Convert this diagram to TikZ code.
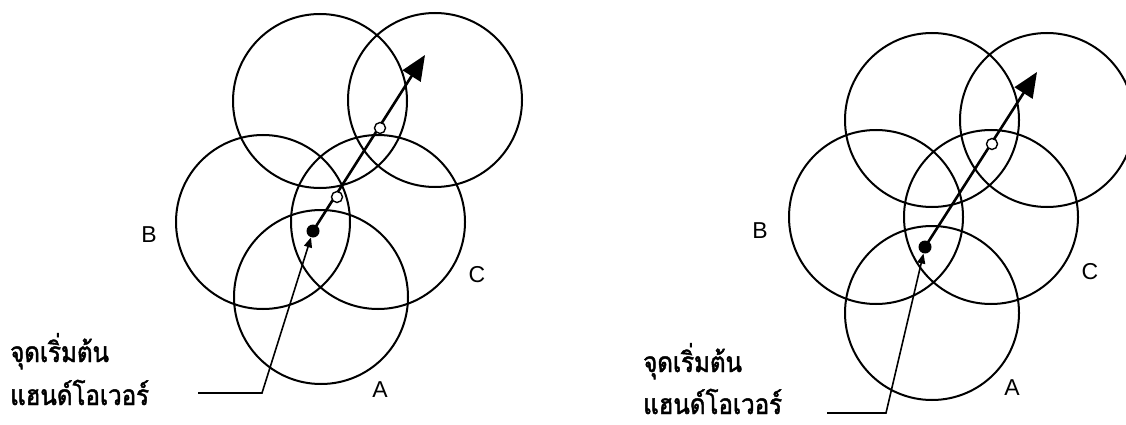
\documentclass[tikz,border=0pt]{standalone}
\usepackage{fontspec}
\setmainfont{Liberation Sans}
\newfontfamily\thaifont[Script=Thai,FakeStretch=0.86,FakeBold=1.6]{Loma}
\usetikzlibrary{arrows.meta}
\begin{document}
\begin{tikzpicture}[x=1pt,y=-1pt,
  cell/.style={circle,draw,line width=2pt,minimum size=174pt,inner sep=0pt},
  fdot/.style={circle,fill=black,minimum size=13pt,inner sep=0pt},
  odot/.style={circle,draw,fill=white,line width=1.4pt,minimum size=11pt,inner sep=0pt},
  mainarrow/.style={line width=2.6pt,-{Triangle[length=25pt,width=21pt]}},
  leader/.style={line width=1.6pt,-{Triangle[length=10pt,width=8pt]}},
  letter/.style={font=\fontsize{23}{26}\selectfont},
  thai/.style={font=\thaifont\fontsize{28}{30}\selectfont,anchor=base west,inner sep=0pt}]
\useasboundingbox (0,0) rectangle (1126,425);
% ---------- left diagram ----------
\node[cell] (lTL) at (320,101) {};
\node[cell] (lTR) at (435,100) {};
\node[cell] (lB) at (263,222) {};
\node[cell] (lM) at (378,222) {};
\node[cell] (lA) at (321,297) {};
\node[fdot] (lstart) at (313,231) {};
\coordinate (ltip) at (425,55);
\draw[mainarrow] (lstart.center) -- (ltip);
\node[odot] (lo1) at (337,197) {};
\node[odot] (lo2) at (380,128) {};
\coordinate (lleadA) at (198,393);
\coordinate (lleadB) at (262,393);
\draw[leader] (lleadA) -- (lleadB) -- (lstart);
\node[letter] (lbB) at (149,235) {B};
\node[letter] (lbC) at (477,275) {C};
\node[letter] (lbA) at (380,390) {A};
\node[thai] (lt1) at (10,362) {จุดเริ่มต้น};
\node[thai] (lt2) at (10,405) {แฮนด์โอเวอร์};
% ---------- right diagram ----------
\node[cell] (rTL) at (932,120) {};
\node[cell] (rTR) at (1047,120) {};
\node[cell] (rB) at (876,217) {};
\node[cell] (rM) at (991,217) {};
\node[cell] (rA) at (932,313) {};
\node[fdot] (rstart) at (925,247) {};
\coordinate (rtip) at (1037,72);
\draw[mainarrow] (rstart.center) -- (rtip);
\node[odot] (ro1) at (992,144) {};
\coordinate (rleadA) at (827,413);
\coordinate (rleadB) at (886,413);
\draw[leader] (rleadA) -- (rleadB) -- (rstart);
\node[letter] (rbB) at (760,231) {B};
\node[letter] (rbC) at (1090,272) {C};
\node[letter] (rbA) at (1012,388) {A};
\node[thai] (rt1) at (643,372) {จุดเริ่มต้น};
\node[thai] (rt2) at (643,414) {แฮนด์โอเวอร์};
\end{tikzpicture}
\end{document}
